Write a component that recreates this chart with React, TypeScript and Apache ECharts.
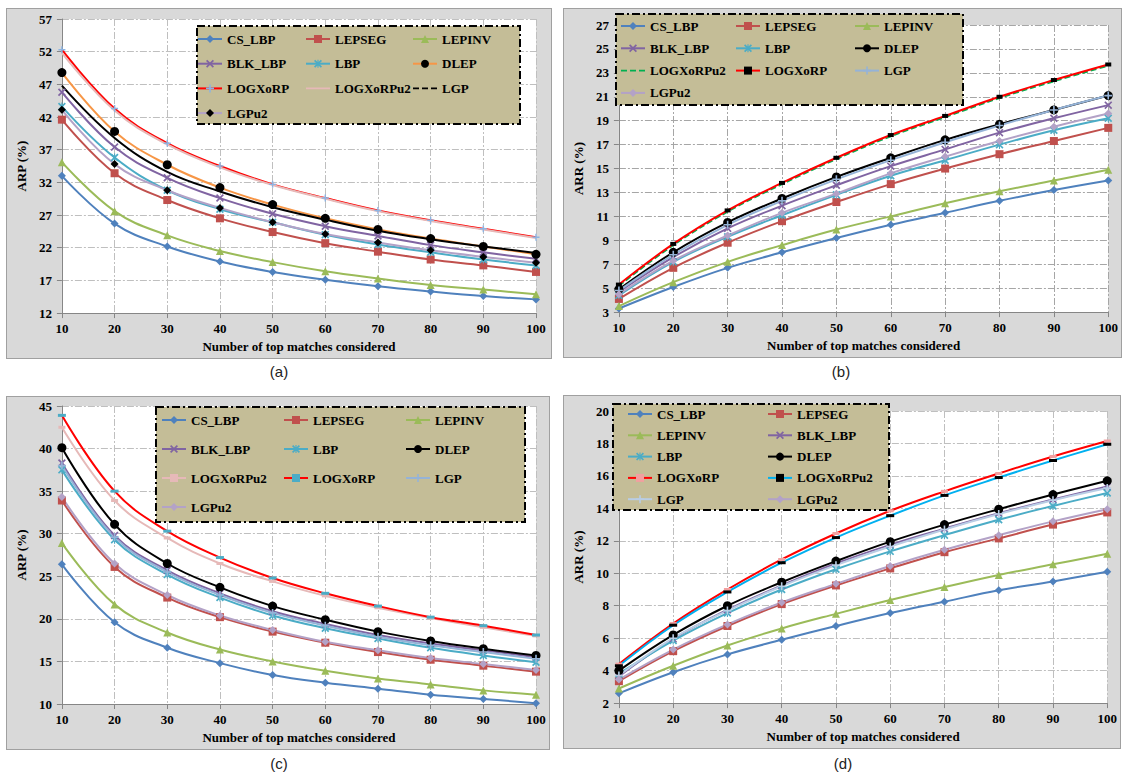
import React, { useEffect, useRef } from "react";
import * as echarts from "echarts";

const xCats = ["10", "20", "30", "40", "50", "60", "70", "80", "90", "100"];

// ---------- Panel (a) ARP ----------
const a_CS_LBP = [33.0, 25.7, 22.2, 19.9, 18.3, 17.1, 16.1, 15.3, 14.6, 14.1];
const a_LEPSEG = [41.6, 33.4, 29.3, 26.5, 24.4, 22.7, 21.4, 20.2, 19.3, 18.3];
const a_LEPINV = [35.1, 27.6, 23.9, 21.5, 19.8, 18.4, 17.3, 16.3, 15.6, 14.9];
const a_BLK_LBP = [45.8, 37.4, 32.7, 29.6, 27.2, 25.3, 23.8, 22.4, 21.3, 20.3];
const a_LBP = [43.6, 35.8, 30.8, 27.9, 25.9, 24.0, 22.5, 21.3, 20.2, 19.3];
const a_DLEP = [48.8, 39.8, 34.7, 31.2, 28.6, 26.5, 24.8, 23.4, 22.2, 21.0];
const a_LOGXoRP = [52.3, 43.3, 38.0, 34.5, 31.7, 29.6, 27.7, 26.2, 24.9, 23.6];
const a_LOGXoRPu2 = [51.8, 43.0, 37.8, 34.3, 31.6, 29.5, 27.6, 26.1, 24.8, 23.5];
const a_LGP = [46.8, 38.8, 33.6, 30.6, 28.2, 26.3, 24.6, 23.3, 22.2, 21.2];
const a_LGPu2 = [43.1, 34.8, 30.8, 28.1, 25.9, 24.1, 22.8, 21.6, 20.6, 19.7];

// ---------- Panel (b) ARR ----------
const b_CS_LBP = [3.3, 5.1, 6.7, 8.0, 9.2, 10.3, 11.3, 12.3, 13.2, 14.0];
const b_LEPSEG = [4.1, 6.7, 8.8, 10.6, 12.2, 13.7, 15.0, 16.2, 17.3, 18.4];
const b_LEPINV = [3.5, 5.5, 7.2, 8.6, 9.9, 11.0, 12.1, 13.1, 14.0, 14.9];
const b_BLK_LBP = [4.7, 7.6, 10.0, 11.9, 13.6, 15.2, 16.6, 18.0, 19.2, 20.3];
const b_LBP = [4.4, 7.2, 9.3, 11.1, 12.8, 14.4, 15.7, 17.0, 18.2, 19.2];
const b_DLEP = [4.9, 8.0, 10.5, 12.5, 14.3, 15.9, 17.4, 18.7, 19.9, 21.1];
const b_LOGXoRPu2 = [5.2, 8.6, 11.4, 13.7, 15.8, 17.7, 19.3, 20.9, 22.3, 23.6];
const b_LOGXoRP = [5.3, 8.7, 11.5, 13.8, 15.9, 17.8, 19.4, 21.0, 22.4, 23.7];
const b_LGP = [4.8, 7.8, 10.3, 12.3, 14.1, 15.7, 17.2, 18.6, 19.9, 21.1];
const b_LGPu2 = [4.5, 7.3, 9.4, 11.3, 12.9, 14.6, 16.0, 17.3, 18.5, 19.6];

// ---------- Panel (c) ARP ----------
const c_CS_LBP = [26.4, 19.6, 16.6, 14.8, 13.4, 12.5, 11.8, 11.1, 10.6, 10.1];
const c_LEPSEG = [33.9, 26.1, 22.5, 20.2, 18.5, 17.2, 16.1, 15.2, 14.5, 13.8];
const c_LEPINV = [28.9, 21.7, 18.4, 16.4, 15.0, 13.9, 13.0, 12.3, 11.6, 11.1];
const c_BLK_LBP = [38.3, 29.8, 25.7, 23.0, 20.9, 19.4, 18.1, 17.1, 16.3, 15.5];
const c_LBP = [37.5, 29.3, 25.2, 22.5, 20.4, 18.9, 17.7, 16.6, 15.7, 14.9];
const c_DLEP = [40.1, 31.1, 26.5, 23.7, 21.5, 19.9, 18.5, 17.4, 16.5, 15.7];
const c_LOGXoRPu2 = [42.5, 33.9, 29.5, 26.5, 24.4, 22.7, 21.3, 20.1, 19.0, 18.0];
const c_LOGXoRP = [43.9, 35.0, 30.3, 27.2, 24.8, 23.0, 21.5, 20.2, 19.2, 18.1];
const c_LGP = [38.0, 29.6, 25.5, 22.8, 20.7, 19.2, 17.9, 16.9, 16.1, 15.3];
const c_LGPu2 = [34.3, 26.5, 22.8, 20.4, 18.7, 17.3, 16.3, 15.4, 14.7, 14.0];

// ---------- Panel (d) ARR ----------
const d_CS_LBP = [2.6, 3.9, 5.0, 5.9, 6.75, 7.55, 8.25, 8.95, 9.5, 10.1];
const d_LEPSEG = [3.35, 5.2, 6.75, 8.1, 9.25, 10.3, 11.3, 12.15, 13.0, 13.75];
const d_LEPINV = [2.9, 4.3, 5.55, 6.6, 7.5, 8.35, 9.15, 9.9, 10.55, 11.2];
const d_BLK_LBP = [3.65, 5.95, 7.75, 9.25, 10.6, 11.75, 12.75, 13.7, 14.55, 15.35];
const d_LBP = [3.8, 5.85, 7.55, 9.0, 10.25, 11.35, 12.35, 13.3, 14.15, 14.95];
const d_DLEP = [4.0, 6.2, 8.0, 9.45, 10.75, 11.95, 13.0, 13.95, 14.85, 15.7];
const d_LOGXoRP = [4.4, 6.9, 9.0, 10.85, 12.45, 13.85, 15.05, 16.15, 17.2, 18.15];
const d_LOGXoRPu2 = [4.3, 6.8, 8.85, 10.65, 12.2, 13.55, 14.8, 15.9, 16.95, 17.95];
const d_LGP = [3.7, 6.0, 7.7, 9.2, 10.5, 11.65, 12.7, 13.65, 14.5, 15.25];
const d_LGPu2 = [3.45, 5.3, 6.85, 8.2, 9.35, 10.45, 11.45, 12.35, 13.2, 13.95];

// ---------- styles ----------
const SERIF = "'Liberation Serif', 'Times New Roman', serif";
const X_PATH = "path://M0,1.5L1.5,0L5,3.5L8.5,0L10,1.5L6.5,5L10,8.5L8.5,10L5,6.5L1.5,10L0,8.5L3.5,5Z";
const STAR_PATH = "path://M0,1.5L1.5,0L5,3.5L8.5,0L10,1.5L6.5,5L10,8.5L8.5,10L5,6.5L1.5,10L0,8.5L3.5,5Z M4.3,0L5.7,0L5.7,10L4.3,10Z";
const PLUS_PATH = "path://M4,0L6,0L6,4L10,4L10,6L6,6L6,10L4,10L4,6L0,6L0,4L4,4Z";
// legend-only icons (line without marker), bounding box 24x10 kept by tiny corner specks
const LINE_ICON = "path://M0,0L0.01,0L0,0.01Z M0,4.1L24,4.1L24,5.9L0,5.9Z M24,10L23.99,10L24,9.99Z";
const DASH_ICON =
  "path://M0,0L0.01,0L0,0.01Z M0,4.1L6,4.1L6,5.9L0,5.9Z M9,4.1L15,4.1L15,5.9L9,5.9Z M18,4.1L24,4.1L24,5.9L18,5.9Z M24,10L23.99,10L24,9.99Z";

type St = { line: string; sym?: any; size?: any; symColor?: string; dashed?: boolean; width?: number };

function mk(name: string, data: number[], st: St) {
  return {
    name,
    type: "line",
    data,
    smooth: 0.4,
    symbol: st.sym || "none",
    symbolSize: st.size || 7,
    showSymbol: !!st.sym,
    lineStyle: { color: st.line, width: st.width || 2, type: st.dashed ? [6, 3] : "solid" },
    itemStyle: { color: st.symColor || st.line },
    emphasis: { disabled: true },
    z: 2,
  };
}

const base = {
  CS_LBP: { line: "#4F81BD", sym: "diamond", size: 8 },
  LEPSEG: { line: "#C0504D", sym: "rect", size: 8 },
  LEPINV: { line: "#9BBB59", sym: "triangle", size: 8 },
  BLK_LBP: { line: "#8064A2", sym: X_PATH, size: 8 },
  LBP: { line: "#4BACC6", sym: STAR_PATH, size: 8 },
};

type PanelCfg = {
  series: any[];
  yName: string;
  ymin: number;
  ymax: number;
  yint: number;
  grid: { left: number; top: number; right: number; bottom: number };
  gridColor: string;
  xNameGap: number;
  yNameGap: number;
  box: { x: number; y: number; w: number; h: number };
  cols: { names: string[]; left: number }[];
  legTop: number;
  legGap: number;
  dashedLegend?: string[];
};

function legendItem(p: PanelCfg, n: string) {
  const s = p.series.find((x) => x.name === n);
  const dashed = (p.dashedLegend || []).includes(n) || Array.isArray(s.lineStyle.type);
  if (s.symbol === "none" || dashed) {
    return { name: n, icon: dashed ? DASH_ICON : LINE_ICON, itemStyle: { color: s.lineStyle.color } };
  }
  return n;
}

function buildOption(p: PanelCfg) {
  const txt = { fontFamily: SERIF, fontWeight: "bold", fontSize: 13, color: "#000" };
  const split = { show: true, lineStyle: { color: p.gridColor, width: 1, type: [7, 2, 2, 2] } };
  return {
    animation: false,
    grid: { ...p.grid, show: true, backgroundColor: "#ffffff", borderWidth: 0 },
    xAxis: {
      type: "category",
      data: xCats,
      boundaryGap: false,
      axisLine: { lineStyle: { color: "#868686", width: 1 } },
      axisTick: { show: true, length: 5, lineStyle: { color: "#868686" } },
      axisLabel: { ...txt, margin: 9 },
      splitLine: split,
      name: "Number of top matches considered",
      nameLocation: "middle",
      nameGap: p.xNameGap,
      nameTextStyle: { ...txt },
    },
    yAxis: {
      type: "value",
      min: p.ymin,
      max: p.ymax,
      interval: p.yint,
      axisLine: { show: true, lineStyle: { color: "#868686", width: 1 } },
      axisTick: { show: true, length: 5, lineStyle: { color: "#868686" } },
      axisLabel: { ...txt, margin: 10 },
      splitLine: split,
      name: p.yName,
      nameLocation: "middle",
      nameGap: p.yNameGap,
      nameRotate: 90,
      nameTextStyle: { ...txt },
    },
    graphic: {
      z: 50,
      elements: [
        {
          type: "rect",
          z: 50,
          shape: { x: p.box.x, y: p.box.y, width: p.box.w, height: p.box.h },
          style: { fill: "#C4BD97", stroke: "#000", lineWidth: 2, lineDash: [8, 3, 2, 3] },
        },
      ],
    },
    legend: p.cols.map((c) => ({
      orient: "vertical",
      left: c.left,
      top: p.legTop,
      itemGap: p.legGap,
      itemWidth: 24,
      itemHeight: 10,
      selectedMode: false,
      z: 60,
      padding: 0,
      textStyle: { ...txt, lineHeight: 16 },
      data: c.names.map((n) => legendItem(p, n)),
    })),
    series: p.series,
  };
}

const panelA: PanelCfg = {
  series: [
    mk("CS_LBP", a_CS_LBP, base.CS_LBP),
    mk("LEPSEG", a_LEPSEG, base.LEPSEG),
    mk("LEPINV", a_LEPINV, base.LEPINV),
    mk("BLK_LBP", a_BLK_LBP, base.BLK_LBP),
    mk("LBP", a_LBP, base.LBP),
    mk("DLEP", a_DLEP, { line: "#F79646", sym: "circle", size: 9, symColor: "#000" }),
    mk("LOGXoRP", a_LOGXoRP, { line: "#FF0000", sym: PLUS_PATH, size: 7, symColor: "#8DB4E2" }),
    mk("LOGXoRPu2", a_LOGXoRPu2, { line: "#E6B9B8" }),
    mk("LGP", a_LGP, { line: "#000000" }),
    mk("LGPu2", a_LGPu2, { line: "#B3A2C7", sym: "diamond", size: 8, symColor: "#000" }),
  ],
  yName: "ARP (%)",
  ymin: 12,
  ymax: 57,
  yint: 5,
  grid: { left: 43, top: 10, right: 15, bottom: 44 },
  gridColor: "#BFBFBF",
  xNameGap: 25,
  yNameGap: 26,
  box: { x: 190, y: 17, w: 323, h: 98 },
  cols: [
    { names: ["CS_LBP", "BLK_LBP", "LOGXoRP", "LGPu2"], left: 190 },
    { names: ["LEPSEG", "LBP", "LOGXoRPu2"], left: 298 },
    { names: ["LEPINV", "DLEP", "LGP"], left: 405 },
  ],
  legTop: 22,
  legGap: 8.7,
  dashedLegend: ["LGP"],
};

const panelB: PanelCfg = {
  series: [
    mk("CS_LBP", b_CS_LBP, base.CS_LBP),
    mk("LEPSEG", b_LEPSEG, base.LEPSEG),
    mk("LEPINV", b_LEPINV, base.LEPINV),
    mk("BLK_LBP", b_BLK_LBP, base.BLK_LBP),
    mk("LBP", b_LBP, base.LBP),
    mk("DLEP", b_DLEP, { line: "#000000", sym: "circle", size: 9, symColor: "#000" }),
    mk("LOGXoRPu2", b_LOGXoRPu2, { line: "#00B050", dashed: true }),
    mk("LOGXoRP", b_LOGXoRP, { line: "#FF0000", sym: "rect", size: [6, 4], symColor: "#000" }),
    mk("LGP", b_LGP, { line: "#95B3D7", sym: PLUS_PATH, size: 8 }),
    mk("LGPu2", b_LGPu2, { line: "#B3A2C7", sym: "diamond", size: 8 }),
  ],
  yName: "ARR (%)",
  ymin: 3,
  ymax: 27,
  yint: 2,
  grid: { left: 45, top: 16, right: 6, bottom: 42 },
  gridColor: "#A6A6A6",
  xNameGap: 25,
  yNameGap: 24,
  box: { x: 52, y: 5, w: 347, h: 91 },
  cols: [
    { names: ["CS_LBP", "BLK_LBP", "LOGXoRPu2", "LGPu2"], left: 56 },
    { names: ["LEPSEG", "LBP", "LOGXoRP"], left: 171 },
    { names: ["LEPINV", "DLEP", "LGP"], left: 290 },
  ],
  legTop: 9,
  legGap: 6.3,
};

const panelC: PanelCfg = {
  series: [
    mk("CS_LBP", c_CS_LBP, base.CS_LBP),
    mk("LEPSEG", c_LEPSEG, base.LEPSEG),
    mk("LEPINV", c_LEPINV, base.LEPINV),
    mk("BLK_LBP", c_BLK_LBP, base.BLK_LBP),
    mk("LBP", c_LBP, base.LBP),
    mk("DLEP", c_DLEP, { line: "#000000", sym: "circle", size: 9, symColor: "#000" }),
    mk("LOGXoRPu2", c_LOGXoRPu2, { line: "#E6B9B8", sym: "rect", size: [7, 3] }),
    mk("LOGXoRP", c_LOGXoRP, { line: "#FF0000", sym: "rect", size: [8, 3], symColor: "#4BACC6" }),
    mk("LGP", c_LGP, { line: "#95B3D7", sym: PLUS_PATH, size: 8 }),
    mk("LGPu2", c_LGPu2, { line: "#B3A2C7", sym: "diamond", size: 8 }),
  ],
  yName: "ARP (%)",
  ymin: 10,
  ymax: 45,
  yint: 5,
  grid: { left: 44, top: 9, right: 13, bottom: 45 },
  gridColor: "#BFBFBF",
  xNameGap: 27,
  yNameGap: 27,
  box: { x: 149, y: 10, w: 369, h: 115 },
  cols: [
    { names: ["CS_LBP", "BLK_LBP", "LOGXoRPu2", "LGPu2"], left: 154 },
    { names: ["LEPSEG", "LBP", "LOGXoRP"], left: 276 },
    { names: ["LEPINV", "DLEP", "LGP"], left: 398 },
  ],
  legTop: 15,
  legGap: 13,
};

const panelD: PanelCfg = {
  series: [
    mk("CS_LBP", d_CS_LBP, base.CS_LBP),
    mk("LEPSEG", d_LEPSEG, base.LEPSEG),
    mk("LEPINV", d_LEPINV, base.LEPINV),
    mk("BLK_LBP", d_BLK_LBP, base.BLK_LBP),
    mk("LBP", d_LBP, base.LBP),
    mk("DLEP", d_DLEP, { line: "#000000", sym: "circle", size: 9, symColor: "#000" }),
    mk("LOGXoRP", d_LOGXoRP, { line: "#FF0000", sym: "rect", size: [7, 3], symColor: "#F2A0A0" }),
    mk("LOGXoRPu2", d_LOGXoRPu2, { line: "#00B0F0", sym: "rect", size: [8, 3], symColor: "#000" }),
    mk("LGP", d_LGP, { line: "#B9CDE5", sym: PLUS_PATH, size: 8 }),
    mk("LGPu2", d_LGPu2, { line: "#B3A2C7", sym: "diamond", size: 8 }),
  ],
  yName: "ARR (%)",
  ymin: 2,
  ymax: 20,
  yint: 2,
  grid: { left: 44, top: 15, right: 5, bottom: 42 },
  gridColor: "#BFBFBF",
  xNameGap: 25,
  yNameGap: 24,
  box: { x: 49, y: 8, w: 276, h: 106 },
  cols: [
    { names: ["CS_LBP", "LEPINV", "LBP", "LOGXoRP", "LGP"], left: 63 },
    { names: ["LEPSEG", "BLK_LBP", "DLEP", "LOGXoRPu2", "LGPu2"], left: 203 },
  ],
  legTop: 10,
  legGap: 5.3,
};

function Chart({ cfg }: { cfg: PanelCfg }) {
  const ref = useRef<HTMLDivElement>(null);
  useEffect(() => {
    if (!ref.current) return;
    const c = echarts.init(ref.current, null, { renderer: "svg" });
    c.setOption(buildOption(cfg) as any);
    return () => c.dispose();
  }, [cfg]);
  return <div ref={ref} style={{ position: "absolute", left: 0, top: 0, width: "100%", height: "100%" }} />;
}

const frames = [
  { cfg: panelA, x: 6, y: 8, w: 546, h: 351, cap: "(a)", cx: 279, cy: 372 },
  { cfg: panelB, x: 563, y: 8, w: 559, h: 350, cap: "(b)", cx: 841, cy: 372 },
  { cfg: panelC, x: 6, y: 396, w: 544, h: 354, cap: "(c)", cx: 279, cy: 764 },
  { cfg: panelD, x: 563, y: 395, w: 558, h: 354, cap: "(d)", cx: 843, cy: 764 },
];

export default function App() {
  return (
    <div style={{ position: "fixed", left: 0, top: 0, width: 1126, height: 775, background: "#fff", overflow: "hidden" }}>
      {frames.map((f) => (
        <React.Fragment key={f.cap}>
          <div
            style={{
              position: "absolute",
              left: f.x,
              top: f.y,
              width: f.w,
              height: f.h,
              background: "#D9D9D9",
              border: "1px solid #A0A0A0",
              boxSizing: "border-box",
            }}
          >
            <Chart cfg={f.cfg} />
          </div>
          <div
            style={{
              position: "absolute",
              left: f.cx - 30,
              top: f.cy - 10,
              width: 60,
              height: 20,
              lineHeight: "20px",
              textAlign: "center",
              fontFamily: "'Liberation Sans', Arial, sans-serif",
              fontSize: 15,
              color: "#222",
            }}
          >
            {f.cap}
          </div>
        </React.Fragment>
      ))}
    </div>
  );
}
